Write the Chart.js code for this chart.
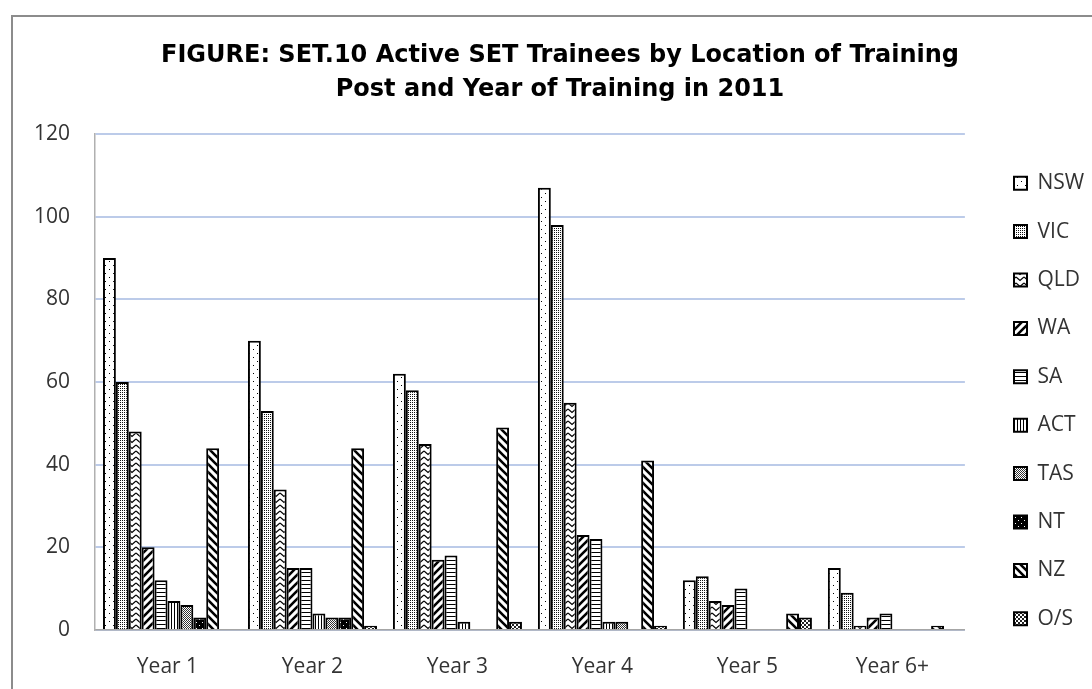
<!DOCTYPE html>
<html>
<head>
<meta charset="utf-8">
<script src="https://cdn.jsdelivr.net/npm/chart.js@4.4.0/dist/chart.umd.min.js"></script>
<style>
  html, body { margin: 0; padding: 0; background: #fff; }
  #wrap { width: 1092px; height: 689px; position: relative; }
</style>
</head>
<body>
<div id="wrap"><canvas id="chart" width="1092" height="689"></canvas></div>
<script>
// Data
const years = ['Year 1', 'Year 2', 'Year 3', 'Year 4', 'Year 5', 'Year 6+'];
const nsw = [90, 70, 62, 107, 12, 15];
const vic = [60, 53, 58, 98, 13, 9];
const qld = [48, 34, 45, 55, 7, 1];
const wa  = [20, 15, 17, 23, 6, 3];
const sa  = [12, 15, 18, 22, 10, 4];
const act = [7, 4, 2, 2, 0, 0];
const tas = [6, 3, 0, 2, 0, 0];
const nt  = [3, 3, 0, 0, 0, 0];
const nz  = [44, 44, 49, 41, 4, 1];
const os  = [0, 1, 2, 1, 3, 0];
const yTicks = [0, 20, 40, 60, 80, 100, 120];

// pattern helpers
function makePattern(w, h, bg, draw) {
  const c = document.createElement('canvas');
  c.width = w; c.height = h;
  const g = c.getContext('2d');
  g.fillStyle = bg; g.fillRect(0, 0, w, h);
  g.fillStyle = '#000'; g.strokeStyle = '#000';
  draw(g);
  return g.createPattern(c, 'repeat');
}
const pats = {
  nsw: makePattern(8, 8, '#fff', g => { g.fillRect(1, 1, 1, 1); g.fillRect(5, 5, 1, 1); }),
  vic: makePattern(2, 2, '#fff', g => { g.fillStyle = '#111'; g.fillRect(0, 0, 1, 1); }),
  qld: makePattern(8, 6, '#fff', g => {
    g.lineWidth = 1.2;
    g.beginPath(); g.moveTo(0, 1); g.lineTo(4, 4.5); g.lineTo(8, 1); g.stroke();
  }),
  wa: makePattern(8, 8, '#fff', g => {
    g.lineWidth = 2.6;
    g.beginPath(); g.moveTo(-2, 10); g.lineTo(10, -2); g.moveTo(-2, 2); g.lineTo(2, -2); g.moveTo(6, 10); g.lineTo(10, 6); g.stroke();
  }),
  sa: makePattern(4, 4, '#fff', g => { g.fillRect(0, 0, 4, 1); }),
  act: makePattern(3, 3, '#fff', g => { g.fillRect(0, 0, 1, 3); }),
  tas: makePattern(2, 2, '#fff', g => { g.fillStyle = '#333'; g.fillRect(0, 0, 1, 1); g.fillRect(1, 1, 1, 1); }),
  nt: makePattern(6, 6, '#000', g => { g.fillStyle = '#fff'; g.fillRect(1, 1, 1, 1); g.fillRect(4, 4, 1, 1); }),
  nz: makePattern(8, 8, '#fff', g => {
    g.lineWidth = 2.6;
    g.beginPath(); g.moveTo(-2, -2); g.lineTo(10, 10); g.moveTo(6, -2); g.lineTo(10, 2); g.moveTo(-2, 6); g.lineTo(2, 10); g.stroke();
  }),
  os: makePattern(4, 4, '#fff', g => { g.fillStyle = '#222'; g.fillRect(0, 0, 2, 2); g.fillRect(2, 2, 2, 2); })
};

function ds(label, data, pat) {
  return { label, data, backgroundColor: pat, borderColor: '#000', borderWidth: 2,
    categoryPercentage: 0.89, barPercentage: 1 };
}

const legendPad = 27.4;

// outer frame, legend and title nudges
const framePlugin = {
  id: 'frame',
  afterLayout(chart) {
    const shift = 1014 - legendPad - chart.legend.left;
    chart.legend.left += shift;
    chart.legend.right += shift;
    const t = chart.titleBlock;
    const tShift = 560 - (t.left + t.right) / 2;
    t.left += tShift;
    t.right += tShift;
  },
  beforeDraw(chart) {
    const c = chart.ctx;
    c.save();
    c.fillStyle = '#fff'; c.fillRect(0, 0, chart.width, chart.height);
    c.strokeStyle = '#8c8c8c'; c.lineWidth = 2;
    c.strokeRect(12, 16, 1200, 800);
    c.restore();
  }
};

const font = '"Open Sans", Lato, sans-serif';
const ctx = document.getElementById('chart').getContext('2d');
new Chart(ctx, {
  type: 'bar',
  data: {
    labels: years,
    datasets: [
      ds('NSW', nsw, pats.nsw), ds('VIC', vic, pats.vic), ds('QLD', qld, pats.qld),
      ds('WA', wa, pats.wa), ds('SA', sa, pats.sa), ds('ACT', act, pats.act),
      ds('TAS', tas, pats.tas), ds('NT', nt, pats.nt), ds('NZ', nz, pats.nz),
      ds('O/S', os, pats.os)
    ]
  },
  options: {
    responsive: false,
    animation: false,
    layout: { padding: { left: 25, right: 19.5, top: 16, bottom: -15 } },
    plugins: {
      title: {
        display: true,
        text: ['FIGURE: SET.10 Active SET Trainees by Location of Training', 'Post and Year of Training in 2011'],
        color: '#000',
        font: { family: '"DejaVu Sans", Verdana, sans-serif', size: 24, weight: 'bold', lineHeight: 1.42 },
        padding: { top: 23, bottom: 27 }
      },
      legend: {
        position: 'right',
        title: { display: true, text: ' ', font: { size: 10, lineHeight: 1 }, padding: { top: 72, bottom: 0 } },
        labels: {
          boxWidth: 13, boxHeight: 13, padding: legendPad, color: '#333',
          font: { family: font, size: 21 }
        }
      },
      tooltip: { enabled: false }
    },
    scales: {
      x: {
        grid: { display: false, drawTicks: false },
        border: { color: '#a6a6a6', width: 1.5 },
        ticks: { color: '#333', font: { family: font, size: 21, lineHeight: 1.1 }, padding: 25.5 }
      },
      y: {
        min: 0, max: 120,
        afterFit: axis => { axis.width = 70; },
        afterBuildTicks: axis => { axis.ticks = yTicks.map(v => ({ value: v })); },
        grid: { color: '#bccbe9', lineWidth: 2, drawTicks: false },
        border: { color: '#b0b0b0', width: 1.5 },
        ticks: { color: '#333', font: { family: font, size: 21 }, padding: 25 }
      }
    }
  },
  plugins: [framePlugin]
});
</script>
</body>
</html>
